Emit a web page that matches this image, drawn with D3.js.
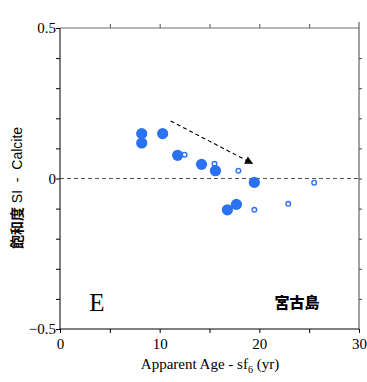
<!DOCTYPE html>
<html>
<head>
<meta charset="utf-8">
<script src="https://cdn.jsdelivr.net/npm/d3@7"></script>
<style>
  html, body { margin: 0; padding: 0; background: #fff; }
  svg { display: block; }
</style>
</head>
<body>
<svg id="chart" width="367" height="382"></svg>
<script>
// Saturation index (calcite) vs apparent SF6 age — Miyako island
const filledAge = [8.2, 8.2, 10.3, 11.8, 14.2, 15.6, 19.5, 16.8, 17.7];
const filledSI  = [0.149, 0.118, 0.149, 0.077, 0.047, 0.026, -0.013, -0.104, -0.086];
const openAge = [12.5, 15.5, 17.9, 19.5, 25.5, 22.9];
const openSI  = [0.079, 0.049, 0.026, -0.104, -0.014, -0.084];
const trendStart = [11.1, 0.191];
const trendEnd   = [19.3, 0.050];
const xTickLabels = [0, 10, 20, 30];
const yTickLabels = [0.5, 0, -0.5];

const svg = d3.select("#chart");
const L = 60, R = 359, T = 28, B = 329;
const x = d3.scaleLinear().domain([0, 30]).range([L, R]);
const y = d3.scaleLinear().domain([-0.5, 0.5]).range([B, T]);
const blue = "#2b72f2";
const serif = "'Liberation Serif', 'Times New Roman', serif";

// frame: top and right in grey
svg.append("line").attr("x1", L).attr("x2", R).attr("y1", T).attr("y2", T)
  .attr("stroke", "#6e6e6e").attr("stroke-width", 1.2);
svg.append("line").attr("x1", R).attr("x2", R).attr("y1", T - 6).attr("y2", B)
  .attr("stroke", "#444").attr("stroke-width", 1);

// top ticks
svg.append("g").attr("transform", `translate(0,${T})`)
  .call(d3.axisTop(x).tickValues(d3.range(5, 30, 5)).tickSize(4).tickFormat(""))
  .call(g => g.select(".domain").remove())
  .call(g => g.selectAll("line").attr("stroke", "#555"));
// right ticks
svg.append("g").attr("transform", `translate(${R},0)`)
  .call(d3.axisRight(y).tickValues(d3.range(-4, 5).map(d => d / 10)).tickSize(3).tickFormat(""))
  .call(g => g.select(".domain").remove())
  .call(g => g.selectAll("line").attr("stroke", "#444"));

// zero reference line
svg.append("line").attr("x1", L).attr("x2", R).attr("y1", y(0)).attr("y2", y(0))
  .attr("stroke", "#555").attr("stroke-width", 1).attr("stroke-dasharray", "4,3");

// bottom axis
const xAxis = svg.append("g").attr("transform", `translate(0,${B})`)
  .call(d3.axisBottom(x).tickValues(d3.range(0, 31, 5)).tickSize(4)
    .tickFormat(d => xTickLabels.includes(d) ? d : ""));
xAxis.select(".domain").attr("d", `M${L},0H${R}`).attr("stroke", "#000");
xAxis.selectAll("text").attr("font-family", serif).attr("font-size", 15).attr("fill", "#000").attr("dy", "0.85em");

// left axis
const yAxis = svg.append("g").attr("transform", `translate(${L},0)`)
  .call(d3.axisLeft(y).tickValues(d3.range(-5, 6).map(d => d / 10)).tickSize(4)
    .tickFormat(d => yTickLabels.some(v => Math.abs(v - d) < 1e-9) ? d3.format("")(+d.toFixed(1)) : ""));
yAxis.select(".domain").attr("d", `M0,${B}V${T}`).attr("stroke", "#000");
yAxis.selectAll("text").attr("font-family", serif).attr("font-size", 15).attr("fill", "#000").attr("x", -4);

// trend arrow
svg.append("defs").append("marker")
  .attr("id", "head").attr("viewBox", "0 0 10 10").attr("refX", 9).attr("refY", 5)
  .attr("markerWidth", 10).attr("markerHeight", 8).attr("markerUnits", "userSpaceOnUse")
  .attr("orient", "auto")
  .append("path").attr("d", "M0,0L10,5L0,10Z").attr("fill", "#000");
svg.append("line")
  .attr("x1", x(trendStart[0])).attr("y1", y(trendStart[1]))
  .attr("x2", x(trendEnd[0])).attr("y2", y(trendEnd[1]))
  .attr("stroke", "#000").attr("stroke-width", 1.1).attr("stroke-dasharray", "4,3")
  .attr("marker-end", "url(#head)");

// open markers
svg.append("g").selectAll("circle").data(d3.zip(openAge, openSI)).join("circle")
  .attr("cx", d => x(d[0])).attr("cy", d => y(d[1])).attr("r", 2.3)
  .attr("fill", "#fff").attr("stroke", blue).attr("stroke-width", 1.4);

// filled markers
svg.append("g").selectAll("circle").data(d3.zip(filledAge, filledSI)).join("circle")
  .attr("cx", d => x(d[0])).attr("cy", d => y(d[1])).attr("r", 5.6)
  .attr("fill", blue);

// panel letter and site name
svg.append("text").attr("x", 97).attr("y", 311).attr("text-anchor", "middle")
  .attr("font-family", serif).attr("font-size", 25).text("E");
svg.append("text").attr("x", 297).attr("y", 308).attr("text-anchor", "middle")
  .attr("font-family", "'Noto Sans CJK JP', sans-serif").attr("font-weight", 900)
  .attr("font-size", 15).text("宮古島");

// axis titles
const xt = svg.append("text").attr("x", 210).attr("y", 369).attr("text-anchor", "middle")
  .attr("font-family", serif).attr("font-size", 15);
xt.append("tspan").text("Apparent Age - sf");
xt.append("tspan").attr("font-size", 10).attr("dy", 4).text("6");
xt.append("tspan").attr("dy", -4).text(" (yr)");

const yt = svg.append("text").attr("transform", "translate(22,188) rotate(-90)")
  .attr("text-anchor", "middle")
  .attr("font-family", "'Liberation Sans', 'Noto Sans CJK JP', sans-serif")
  .attr("font-size", 14).attr("xml:space", "preserve");
yt.append("tspan").attr("font-family", "'Noto Sans CJK JP', sans-serif").attr("font-weight", "bold").text("飽和度");
yt.append("tspan").text(" SI  -  Calcite");
</script>
</body>
</html>
